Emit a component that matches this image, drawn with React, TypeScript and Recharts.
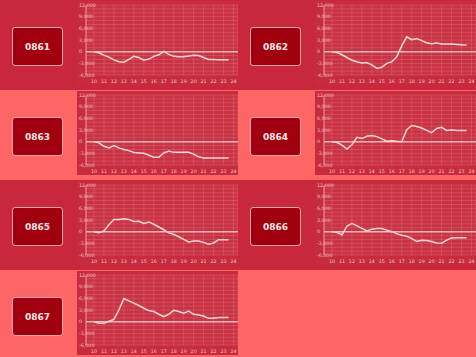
import React from "react";
import { LineChart, Line, XAxis, YAxis, CartesianGrid, ReferenceLine } from "recharts";

const hours = [10, 10.5, 11, 11.5, 12, 12.5, 13, 13.5, 14, 14.5, 15, 15.5, 16, 16.5, 17, 17.5, 18, 18.5, 19, 19.5, 20, 20.5, 21, 21.5, 22, 22.5, 23, 23.5];
const xTicks = [10, 11, 12, 13, 14, 15, 16, 17, 18, 19, 20, 21, 22, 23, 24];
const yTicks = [-6000, -5000, -4000, -3000, -2000, -1000, 0, 1000, 2000, 3000, 4000, 5000, 6000, 7000, 8000, 9000, 10000, 11000, 12000];
const codes = ["0861", "0862", "0863", "0864", "0865", "0866", "0867"];

const s0861 = [0, -300, -900, -1400, -2100, -2600, -2700, -2000, -1200, -1500, -2200, -1900, -1200, -800, 100, -700, -1200, -1300, -1300, -1100, -900, -1000, -1500, -2000, -2000, -2050, -2050, -2050];
const s0862 = [0, -200, -800, -1500, -2200, -2600, -2900, -2800, -3400, -4300, -4000, -3000, -2600, -1300, 1500, 3800, 3100, 3350, 2850, 2300, 2050, 2200, 2000, 2000, 1950, 1850, 1750, 1700];
const s0863 = [0, -300, -1200, -1600, -1000, -1600, -2000, -2300, -2800, -2900, -3000, -3500, -4000, -4000, -2900, -2400, -2750, -2750, -2750, -2750, -3200, -3900, -4200, -4200, -4200, -4200, -4200, -4200];
const s0864 = [0, -200, -900, -1900, -800, 1100, 800, 1400, 1600, 1300, 700, 100, 250, 100, 0, 3100, 4150, 3900, 3500, 2900, 2300, 3400, 3700, 2900, 3000, 2900, 2900, 2900];
const s0865 = [0, -300, 200, 1800, 3150, 3150, 3300, 3150, 2600, 2650, 2100, 2500, 1900, 1200, 500, -300, -700, -1300, -2000, -2650, -2400, -2400, -2750, -3250, -2900, -2050, -2050, -2050];
const s0866 = [0, -200, -800, 1400, 2150, 1500, 850, 200, 650, 800, 800, 400, 0, -500, -900, -1200, -1800, -2500, -2200, -2300, -2550, -2900, -2950, -2200, -1600, -1550, -1550, -1550];
const s0867 = [0, -400, -400, 100, 600, 3000, 5950, 5350, 4750, 4150, 3450, 2850, 2600, 1900, 1300, 1900, 2900, 2600, 2200, 2700, 1900, 1700, 1450, 850, 900, 1100, 1100, 1100];

const seriesList = [s0861, s0862, s0863, s0864, s0865, s0866, s0867];

const DARK = "#c9283c";
const SALMON = "#fe6565";
const FONT = "'DejaVu Sans', Verdana, sans-serif";

const YTick = (props: any) => {
  const v = props.payload?.value;
  if (v % 3000 !== 0) return <g />;
  return (
    <text x={2} y={props.y + 1.5} fontSize={4.8} fill="#f6c2c6" fontFamily={FONT} textAnchor="start">
      {Number(v).toLocaleString("en-US")}
    </text>
  );
};

const XTick = (props: any) => (
  <text x={props.x} y={81.5} fontSize={4.8} fill="#f6c2c6" fontFamily={FONT} textAnchor="middle">
    {props.payload?.value}
  </text>
);

function Mini({ values }: { values: number[] }) {
  const data = hours.map((h, i) => ({ h, v: values[i] }));
  return (
    <LineChart width={161} height={82} data={data} margin={{ top: 4, right: 0, bottom: 0, left: 0 }}>
      <CartesianGrid stroke="rgba(255,175,180,0.32)" strokeWidth={0.6} fill="rgba(255,255,255,0.035)" />
      <XAxis
        dataKey="h"
        type="number"
        domain={[9.2, 24.45]}
        ticks={xTicks}
        interval={0}
        height={8}
        axisLine={false}
        tickLine={false}
        tick={XTick}
        allowDataOverflow
      />
      <YAxis
        type="number"
        domain={[-6000, 12000]}
        ticks={yTicks}
        interval={0}
        width={9}
        axisLine={{ stroke: "#f0a6ad", strokeWidth: 0.8 }}
        tickLine={false}
        tick={YTick}
      />
      <ReferenceLine y={0} stroke="#f6b8bd" strokeWidth={1.5} />
      <Line type="linear" dataKey="v" stroke="#fcdada" strokeWidth={1.5} dot={false} isAnimationActive={false} />
    </LineChart>
  );
}

export default function App() {
  const rows = [0, 1, 2, 3];
  return (
    <div style={{ position: "absolute", left: 0, top: 0, width: 476, height: 357, overflow: "hidden", background: SALMON }}>
      {rows.map((r) => (
        <div
          key={r}
          style={{ position: "absolute", left: 0, top: r * 90, width: 476, height: 90, background: r % 2 === 0 ? DARK : SALMON }}
        />
      ))}
      {seriesList.map((vals, i) => {
        const col = i % 2;
        const row = Math.floor(i / 2);
        const left = col * 238;
        const top = row * 90;
        return (
          <div key={codes[i]} style={{ position: "absolute", left, top, width: 238, height: 90 }}>
            <div
              style={{
                position: "absolute",
                left: 12,
                top: 27,
                width: 49,
                height: 37,
                background: "#a3000f",
                border: "1px solid #f2aab0",
                borderRadius: 3,
                color: "#ffeaea",
                fontFamily: FONT,
                fontWeight: "bold",
                fontSize: 9,
                display: "flex",
                alignItems: "center",
                justifyContent: "center",
              }}
            >
              {codes[i]}
            </div>
            <div style={{ position: "absolute", left: 77, top: 1, width: 161, height: 84, background: "#c72c3e" }}>
              <Mini values={vals} />
            </div>
          </div>
        );
      })}
    </div>
  );
}
